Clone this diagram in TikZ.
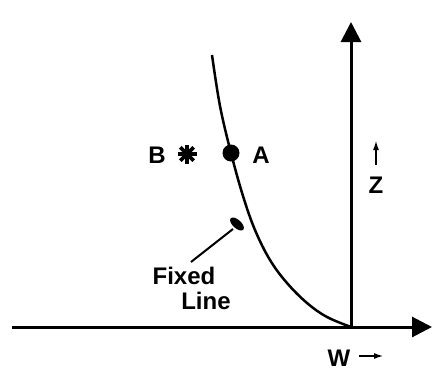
\documentclass[tikz,border=0pt]{standalone}
\usepackage{fontspec}
\setmainfont{Liberation Sans}
\usetikzlibrary{arrows.meta}
\begin{document}
\begin{tikzpicture}[x=1pt,y=-1pt,
  axis/.style={line width=3pt,-{Triangle[length=20pt,width=20pt]}},
  lbl/.style={font=\fontsize{24}{28}\selectfont\bfseries,inner sep=0pt},
  small/.style={line width=2.2pt,-{Latex[length=10pt,width=6pt]}}]
\useasboundingbox (0,0) rectangle (432,370);
\coordinate (O) at (351,327);
\coordinate (xs) at (12,327);
\coordinate (xe) at (432,327);
\coordinate (ze) at (351,22);
\draw[axis] (xs) -- (xe);
\draw[axis] (O) -- (ze);
% curve
\draw[line width=2.5pt] plot[smooth,tension=0.6] coordinates {(212,55) (220,106) (231,153) (243,196) (255,230) (270,260) (287,283) (307,303) (327,317) (351,327)};
% point A
\fill (231,153) circle (8.5);
\node[lbl] (A) at (261,155) {A};
\node[lbl] (B) at (157,155) {B};
\coordinate (ast) at (187,154);
\foreach \a in {0,45,90,135}
  \draw[line width=3.8pt] ([shift={(\a:9.5)}]ast) -- ([shift={(\a+180:9.5)}]ast);
% Fixed line label
\node[lbl] (fixed) at (184,276) {Fixed};
\node[lbl] (line) at (206,301) {Line};
\coordinate (fs) at (191,262);
\coordinate (fe) at (233,229);
\draw[line width=2pt] (fs) -- (fe);
\fill[rotate around={-42:(237,224)}] (237,224) ellipse (8.5 and 4.2);
% Z
\node[lbl] (Z) at (376,185) {Z};
\coordinate (zs) at (376,165);
\coordinate (zt) at (376,140);
\draw[small] (zs) -- (zt);
% W
\node[lbl] (W) at (339,358) {W};
\coordinate (ws) at (359,356);
\coordinate (wt) at (384,356);
\draw[small] (ws) -- (wt);
\end{tikzpicture}
\end{document}
